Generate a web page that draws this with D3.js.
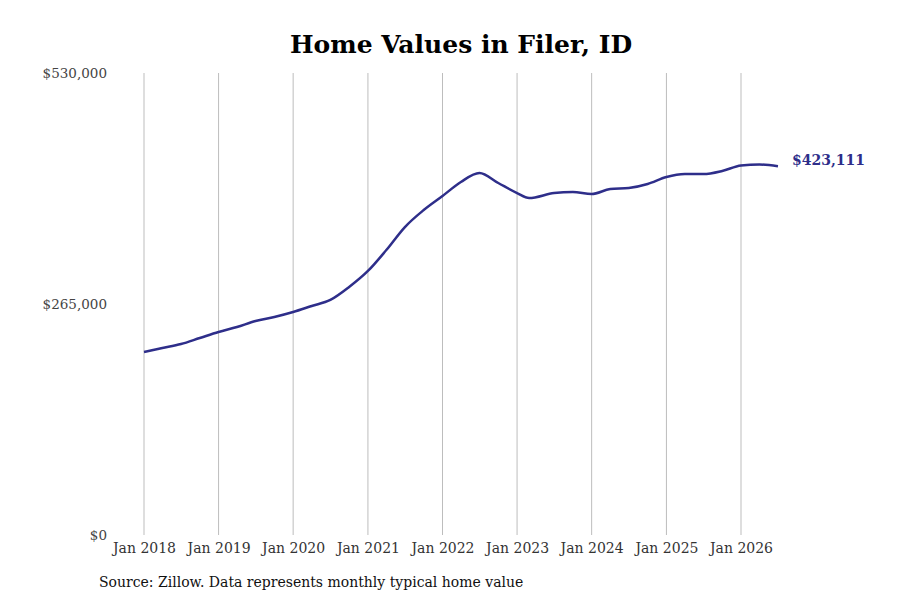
<!DOCTYPE html>
<html>
<head>
<meta charset="utf-8">
<script src="https://cdn.jsdelivr.net/npm/d3@7"></script>
<style>
  body { margin: 0; background: #fff; }
  text { font-family: "DejaVu Serif", serif; }
</style>
</head>
<body>
<div id="chart"></div>
<script>
// quarterly typical home values
let months = [
    "2018-01", "2018-04", "2018-07", "2018-10",
    "2019-01", "2019-04", "2019-07", "2019-10",
    "2020-01", "2020-04", "2020-07", "2020-10",
    "2021-01", "2021-04", "2021-07", "2021-10",
    "2022-01", "2022-04", "2022-07", "2022-10",
    "2023-01", "2023-03", "2023-07", "2023-10",
    "2024-01", "2024-04", "2024-07", "2024-10",
    "2025-01", "2025-04", "2025-07", "2025-10",
    "2026-01", "2026-04", "2026-07"
]
let values = [
    210000, 214500, 219100, 226000,
    232900, 238600, 245500, 250100,
    255800, 262700, 269600, 284500,
    302900, 326900, 353300, 372800,
    388900, 405000, 415300, 403800,
    392300, 386600, 392300, 393500,
    391200, 396900, 398100, 402700,
    410700, 414100, 414100, 417600,
    423900, 425000, 423111
]
let y_ticks = [0, 265000, 530000]
let x_ticks = ["2018", "2019", "2020", "2021", "2022", "2023", "2024", "2025", "2026"]

let title = "Home Values in Filer, ID"
let source = "Source: Zillow. Data represents monthly typical home value"

let svgWidth = 900
let svgHeight = 600
let padding = { 'left': 144, 'right': 159, 'top': 73, 'bottom': 65 }
let lineColor = '#2e2e8a'

let parseMonth = d3.timeParse('%Y-%m')
let data = months.map((m, i) => ({ date: parseMonth(m), value: values[i] }))

let svg = d3.select('#chart').append('svg')
    .attr('width', svgWidth)
    .attr('height', svgHeight)

let x = d3.scaleTime()
    .domain([parseMonth('2018-01'), parseMonth('2026-01')])
    .range([padding.left, svgWidth - padding.right])
let y = d3.scaleLinear()
    .domain([0, 530000])
    .range([svgHeight - padding.bottom, padding.top])

// vertical grid lines at each January
let tickDates = x_ticks.map(t => parseMonth(t + '-01'))
svg.append('g')
    .selectAll('line')
    .data(tickDates)
    .enter()
    .append('line')
    .attr('x1', d => x(d))
    .attr('x2', d => x(d))
    .attr('y1', y(530000))
    .attr('y2', y(0))
    .attr('stroke', '#bdbdbd')
    .attr('stroke-width', 1)

// x axis labels
let axis_x = d3.axisBottom(x)
    .tickValues(tickDates)
    .tickFormat(d3.timeFormat('Jan %Y'))
    .tickSize(0)
    .tickPadding(8)
let gx = svg.append('g')
    .attr('transform', `translate(0, ${y(0)})`)
    .call(axis_x)
gx.select('.domain').remove()
gx.selectAll('text')
    .attr('font-family', '"DejaVu Serif", serif')
    .attr('font-size', 14)
    .attr('fill', '#333')

// y axis labels
let axis_y = d3.axisLeft(y)
    .tickValues(y_ticks)
    .tickFormat(d => '$' + d3.format(',')(d))
    .tickSize(0)
    .tickPadding(37)
let gy = svg.append('g')
    .attr('transform', `translate(${padding.left}, 0)`)
    .call(axis_y)
gy.select('.domain').remove()
gy.selectAll('text')
    .attr('font-family', '"DejaVu Serif", serif')
    .attr('font-size', 13.5)
    .attr('fill', '#444')

// the line
let line = d3.line()
    .x(d => x(d.date))
    .y(d => y(d.value))
    .curve(d3.curveMonotoneX)
svg.append('path')
    .datum(data)
    .attr('d', line)
    .attr('fill', 'none')
    .attr('stroke', lineColor)
    .attr('stroke-width', 2.5)
    .attr('stroke-linejoin', 'round')

// last value label
let last = data[data.length - 1]
svg.append('text')
    .attr('x', x(last.date) + 14)
    .attr('y', y(last.value) - 6)
    .attr('dy', '0.35em')
    .attr('font-size', 14)
    .attr('font-weight', 'bold')
    .attr('fill', lineColor)
    .text('$' + d3.format(',')(last.value))

// title
svg.append('text')
    .attr('x', 461)
    .attr('y', 53)
    .attr('text-anchor', 'middle')
    .attr('font-size', 25)
    .attr('font-weight', 'bold')
    .attr('fill', '#000')
    .text(title)

// source note
svg.append('text')
    .attr('x', 99)
    .attr('y', 587)
    .attr('font-size', 14)
    .attr('fill', '#111')
    .text(source)
</script>
</body>
</html>
